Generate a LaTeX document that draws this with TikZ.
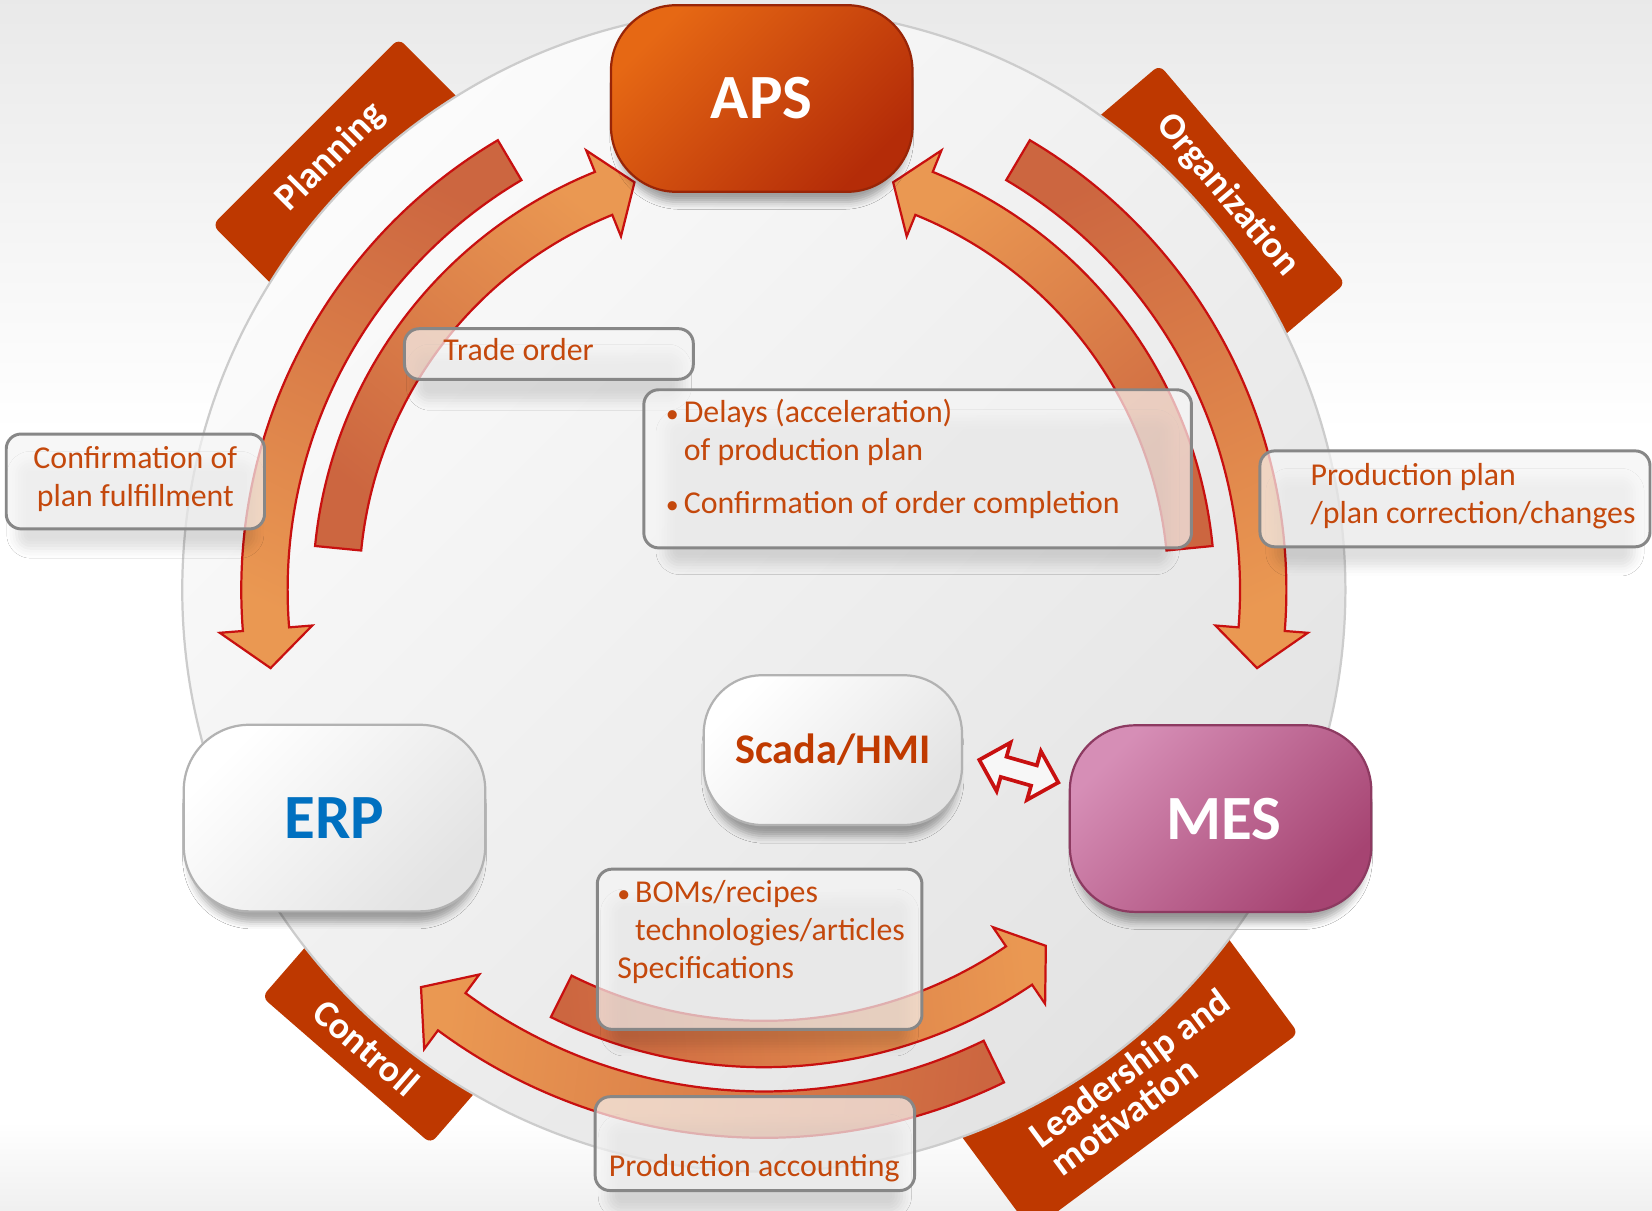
\documentclass[tikz,border=0pt]{standalone}
\usepackage{fontspec}
\setmainfont{Carlito}
\usetikzlibrary{shadows.blur}
\definecolor{bannerred}{RGB}{190,56,0}
\definecolor{txtred}{RGB}{196,72,12}
\definecolor{arrowdark}{RGB}{204,102,64}
\definecolor{arrowlight}{RGB}{234,152,82}
\definecolor{arrowred}{RGB}{200,16,16}
\definecolor{apstop}{RGB}{230,104,20}
\definecolor{apsbot}{RGB}{180,44,8}
\definecolor{mestop}{RGB}{214,142,182}
\definecolor{mesbot}{RGB}{166,68,114}
\definecolor{erpblue}{RGB}{0,112,192}
\definecolor{scadared}{RGB}{192,58,0}
\definecolor{lblgray}{RGB}{135,135,135}
\newcommand{\lblbullet}{\makebox[0.17cm][l]{\fontsize{7}{7}\selectfont\textbullet}}

\begin{document}
\begin{tikzpicture}[x=0.01cm, y=0.01cm,
    banner/.style={fill=bannerred, rounded corners=2pt, minimum height=1.2cm, inner sep=0pt},
    bannertext/.style={text=white, font=\fontsize{10.2}{9.6}\selectfont\bfseries, align=left},
    sysbox/.style={draw, line width=0.6pt, rounded corners=0.62cm, minimum width=2.86cm, minimum height=1.77cm,
        font=\fontsize{17}{20}\selectfont\bfseries,
        blur shadow={shadow xshift=0cm, shadow yshift=-0.14cm, shadow scale=0.96, shadow blur radius=0.07cm, shadow opacity=35}},
    lblbox/.style={draw=lblgray, line width=0.8pt, fill=gray!8, fill opacity=0.7, text opacity=1, rounded corners=4pt,
        inner sep=0pt, text=txtred, font=\fontsize{8.6}{10.2}\selectfont,
        blur shadow={shadow xshift=0cm, shadow yshift=-0.24cm, shadow scale=0.92, shadow blur radius=0.1cm, shadow opacity=18}},
    flowarrow/.style={draw=arrowred, line width=0.6pt, top color=arrowlight, bottom color=arrowdark},
    linkarrow/.style={draw=arrowred, line width=1pt, fill=gray!6}
]
    % Page and background
    \useasboundingbox (-725,-589) rectangle (843,560);
    \fill[white] (-725,-589) rectangle (843,560);
    \shade[top color=gray!17, bottom color=white] (-725,150) rectangle (843,560);
    \shade[top color=white, bottom color=gray!12] (-725,-505) rectangle (843,-589);

    % Banners behind the ring
    \node[banner, minimum width=2.5cm, rotate=45] (planbar) at (135:555) {};
    \node[banner, minimum width=2.72cm, rotate=-49.6] (orgbar) at (40.4:549) {};
    \node[banner, minimum width=2.12cm, rotate=-41] (ctrlbar) at (229:544) {};
    \node[banner, minimum width=3.15cm, rotate=36.5] (leadbar) at (-53.5:580) {};

    \node[bannertext, rotate=45] (plantxt) at (135:581) {Planning};
    \node[bannertext, rotate=-49.6] (orgtxt) at (40.4:578) {Organization};
    \node[bannertext, rotate=-41] (ctrltxt) at (229:575) {Controll};
    \node[bannertext, rotate=36.5] (leadtxt) at (-52.6:588) {Leadership and\\motivation};

    % Ring
    \shadedraw[draw=gray!40, line width=0.6pt, top color=gray!3, bottom color=gray!22, shading angle=45]
        (0,0) circle[radius=552];

    % Curved flow arrows: tail angle / head angle / tip angle / radius / shading
    \foreach \tail/\head/\tip/\rad/\shang in {120.6/184.5/189/474/154.8, 174.4/112/107.6/406/-39,
        59.4/-4.5/-9/474/-154.8, 5.6/68/72.4/406/39, 243.5/304.2/308.4/431/-84.1, 296/233.5/229.2/498/82.6} {
        \shadedraw[flowarrow, shading angle=\shang]
            (\tail:{\rad-22}) arc[start angle=\tail, end angle=\head, radius={\rad-22}]
            -- (\head:{\rad-44}) -- (\tip:\rad) -- (\head:{\rad+44}) -- (\head:{\rad+22})
            arc[start angle=\head, end angle=\tail, radius={\rad+22}] -- cycle;
    }

    % Label boxes
    \node[lblbox] (trade) at (-204,224)
        {\hspace*{0.37cm}\parbox[c][0.48cm][t]{2.37cm}{\rule{0pt}{0.30cm}Trade order}};
    \node[lblbox] (confirm) at (-596.5,103)
        {\parbox[c][0.90cm][t]{2.45cm}{\centering\rule{0pt}{0.33cm}Confirmation of\\plan fulfillment}};
    \node[lblbox] (delays) at (146,115)
        {\hspace*{0.21cm}\parbox[c][1.50cm][t]{4.985cm}{\raggedright\rule{0pt}{0.31cm}%
        \lblbullet Delays (acceleration)\\
        \hspace*{0.17cm}of production plan\\[0.15cm]
        \lblbullet Confirmation of order completion}};
    \node[lblbox] (prodplan) at (656,86.5)
        {\hspace*{0.48cm}\parbox[c][0.91cm][t]{3.22cm}{\raggedright\rule{0pt}{0.33cm}%
        Production plan\\\mbox{/plan correction/changes}}};
    \node[lblbox] (boms) at (-4,-341)
        {\hspace*{0.19cm}\parbox[c][1.52cm][t]{2.89cm}{\raggedright\rule{0pt}{0.32cm}%
        \lblbullet BOMs/recipes\\
        \hspace*{0.17cm}technologies/articles\\
        Specifications}};
    \node[lblbox] (prodacc) at (-8.5,-525.5)
        {\hspace*{0.13cm}\parbox[c][0.89cm][t]{2.90cm}{\rule{0pt}{0.76cm}Production accounting}};

    % Systems
    \node[sysbox, draw=apsbot!85!black, top color=apstop, bottom color=apsbot, shading angle=45, text=white]
        (aps) at (-2,466.5) {APS};
    \node[sysbox, draw=gray!60, top color=white, bottom color=gray!22, shading angle=45, text=erpblue]
        (erp) at (-407.5,-216.5) {ERP};
    \node[sysbox, draw=mesbot!85!black, top color=mestop, bottom color=mesbot, shading angle=45, text=white]
        (mes) at (433.5,-217) {\hspace*{0.07cm}MES};
    \node[sysbox, draw=gray!60, top color=white, bottom color=gray!22, shading angle=45, text=scadared,
        minimum width=2.45cm, minimum height=1.42cm, rounded corners=0.55cm, font=\fontsize{11.4}{13}\selectfont\bfseries]
        (scada) at (65.5,-152) {Scada/HMI};

    % Two-way link Scada/HMI - MES
    \begin{scope}[shift={(242,-172)}, rotate=-16]
        \filldraw[linkarrow] (-39,0) -- (-15,24) -- (-15,10) -- (15,10) -- (15,24) -- (39,0)
            -- (15,-24) -- (15,-10) -- (-15,-10) -- (-15,-24) -- cycle;
    \end{scope}
\end{tikzpicture}
\end{document}
